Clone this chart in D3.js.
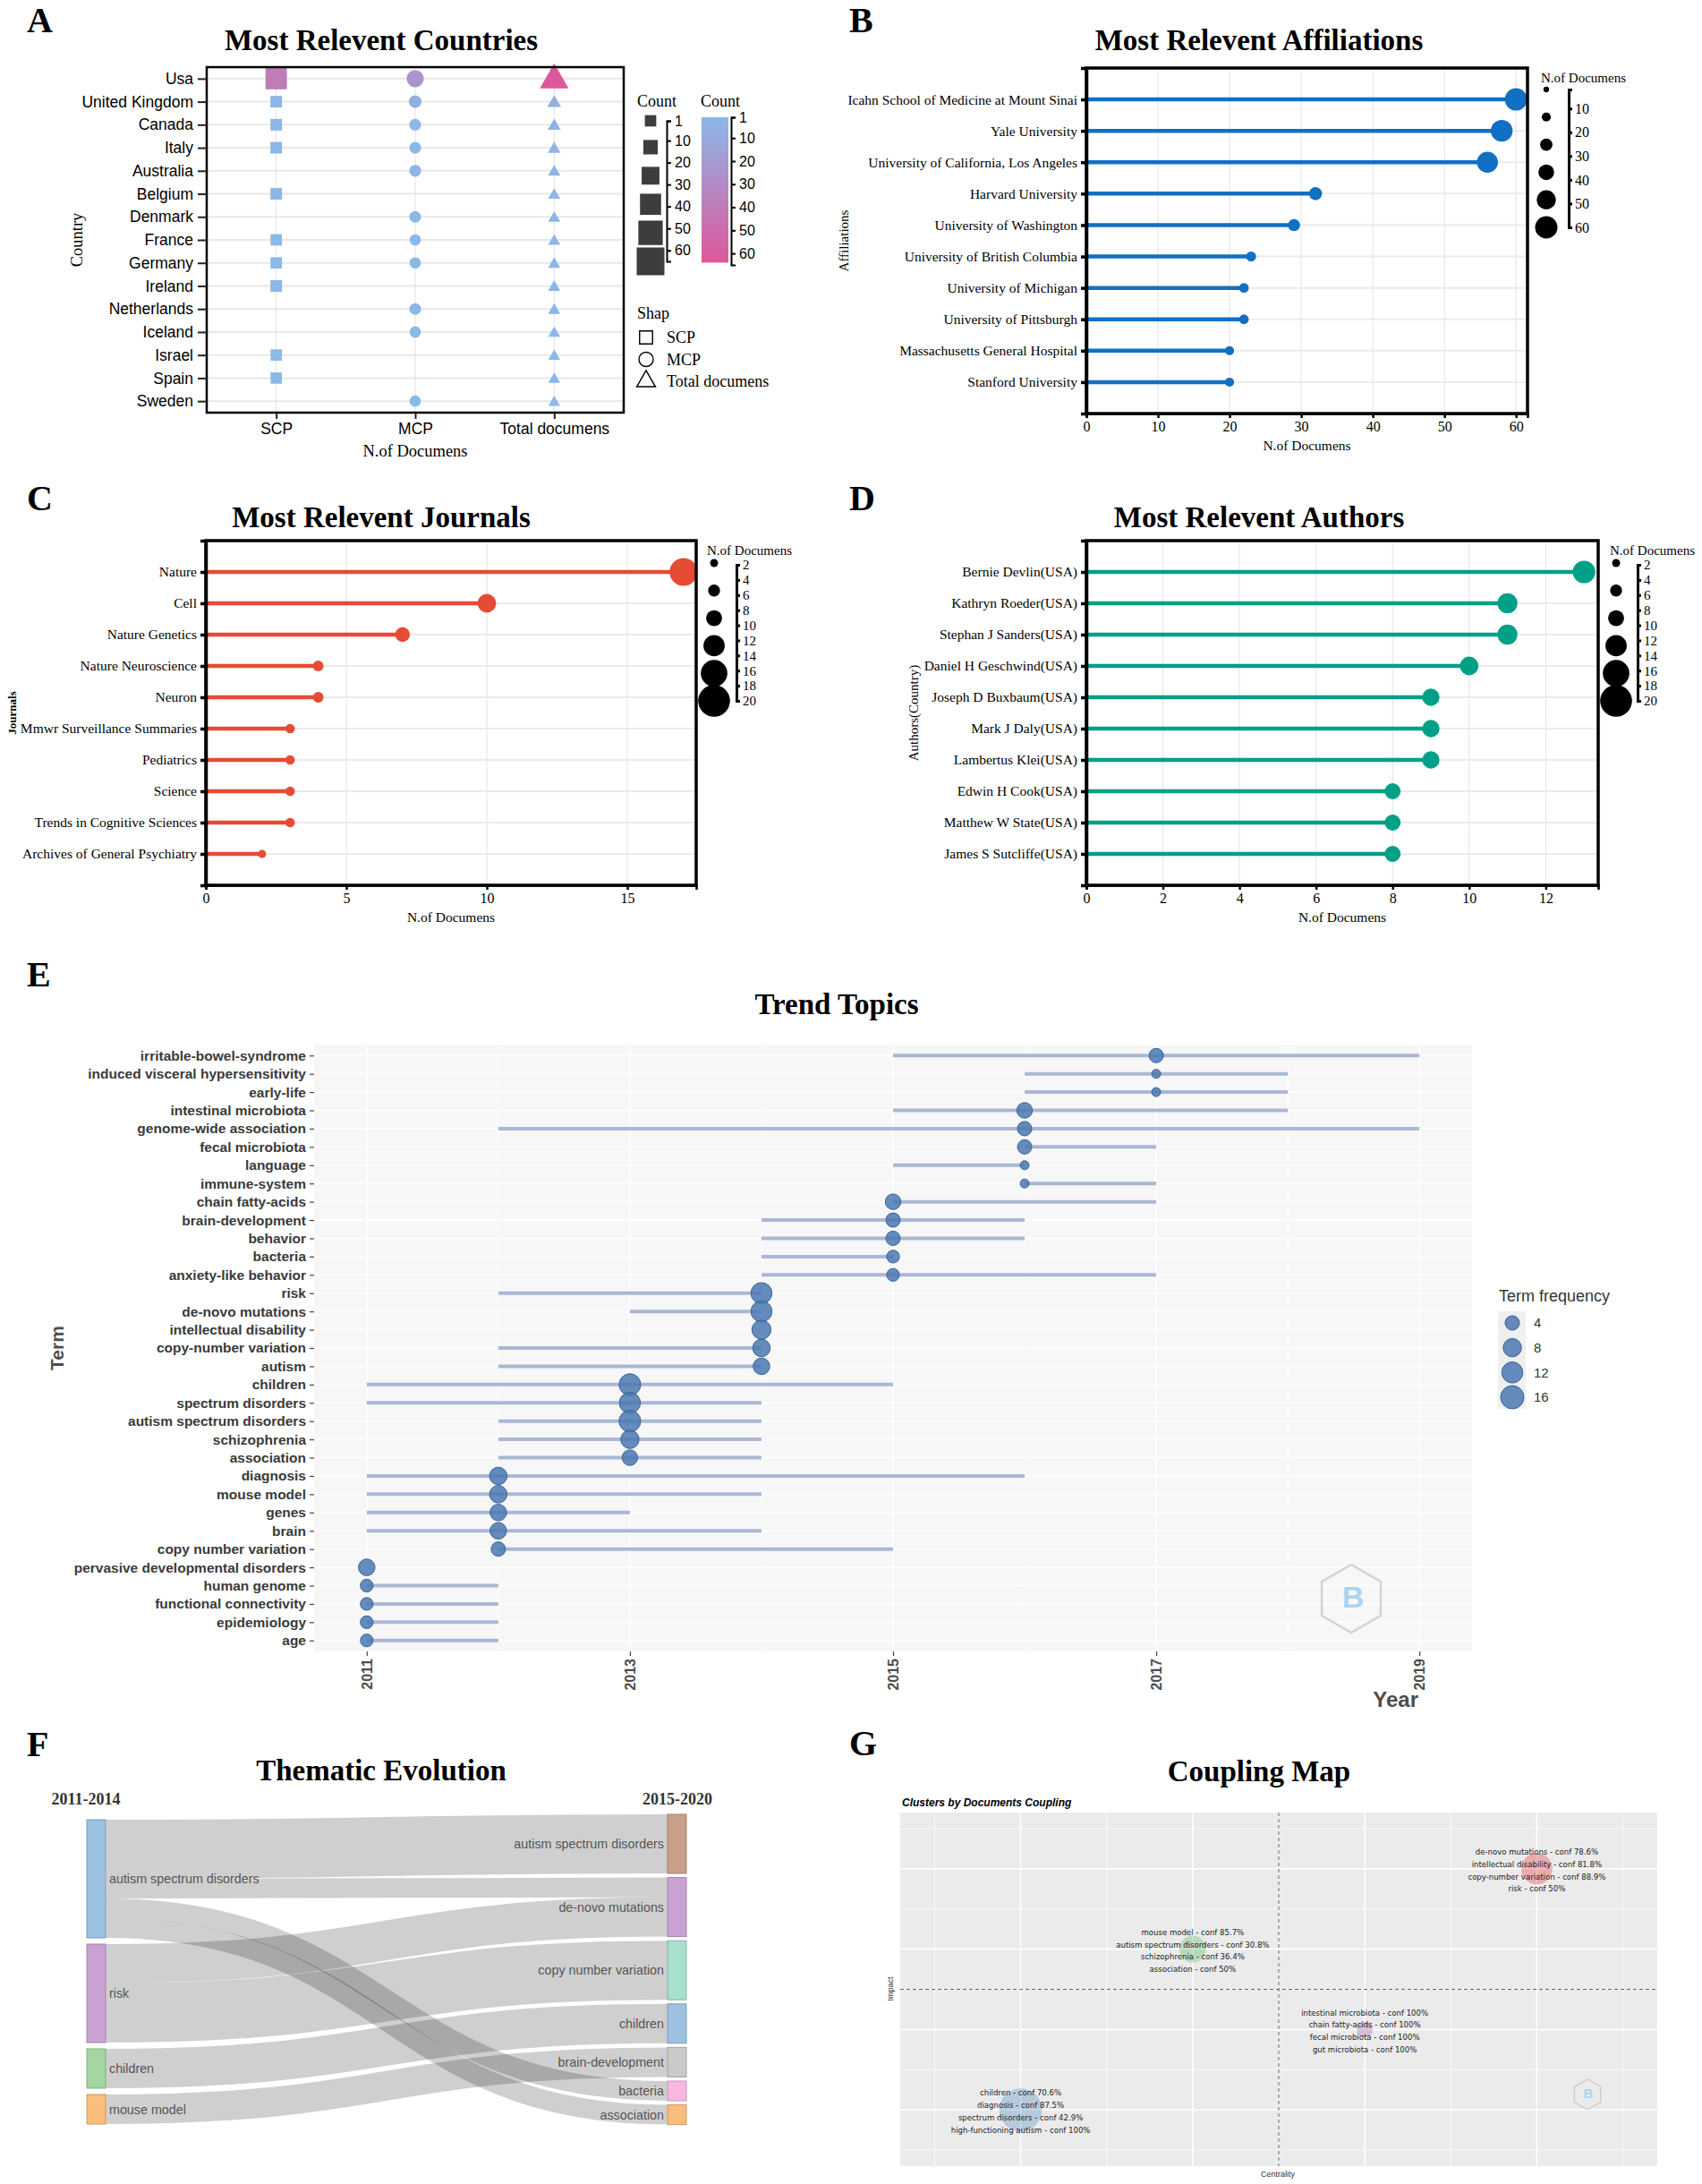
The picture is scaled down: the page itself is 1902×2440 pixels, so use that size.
<!DOCTYPE html>
<html>
<head>
<meta charset="utf-8">
<script src="https://cdn.jsdelivr.net/npm/d3@7"></script>
<style>
  body { margin: 0; background: #fff; }
</style>
</head>
<body>
<script>
// #A  Most relevant countries
const countries = ['Usa', 'United Kingdom', 'Canada', 'Italy', 'Australia', 'Belgium', 'Denmark', 'France',
                   'Germany', 'Ireland', 'Netherlands', 'Iceland', 'Israel', 'Spain', 'Sweden'];
const docTypes = ['SCP', 'MCP', 'Total documens'];
const scpCounts   = [40, 2, 2, 2, 0, 2, 0, 1, 1, 2, 0, 0, 1, 1, 0];
const mcpCounts   = [24, 6, 3, 2, 3, 0, 2, 1, 1, 0, 2, 1, 0, 0, 1];
const totalCounts = [64, 8, 5, 4, 3, 2, 2, 2, 2, 2, 2, 1, 1, 1, 1];
const countLegendValues = [1, 13, 26, 39, 52, 65];
const countTicks = [1, 10, 20, 30, 40, 50, 60];

// #B  Most relevant affiliations
const affiliations = ['Icahn School of Medicine at Mount Sinai', 'Yale University', 'University of California, Los Angeles',
                      'Harvard University', 'University of Washington', 'University of British Columbia',
                      'University of Michigan', 'University of Pittsburgh', 'Massachusetts General Hospital', 'Stanford University'];
const affiliationDocs = [60, 58, 56, 32, 29, 23, 22, 22, 20, 20];
const affTicks = [0, 10, 20, 30, 40, 50, 60];
const affLegendValues = [10, 20, 30, 40, 50, 60];

// #C  Most relevant journals
const journals = ['Nature', 'Cell', 'Nature Genetics', 'Nature Neuroscience', 'Neuron', 'Mmwr Surveillance Summaries',
                  'Pediatrics', 'Science', 'Trends in Cognitive Sciences', 'Archives of General Psychiatry'];
const journalDocs = [17, 10, 7, 4, 4, 3, 3, 3, 3, 2];
const journalTicks = [0, 5, 10, 15];

// #D  Most relevant authors
const authors = ['Bernie Devlin(USA)', 'Kathryn Roeder(USA)', 'Stephan J Sanders(USA)', 'Daniel H Geschwind(USA)',
                 'Joseph D Buxbaum(USA)', 'Mark J Daly(USA)', 'Lambertus Klei(USA)', 'Edwin H Cook(USA)',
                 'Matthew W State(USA)', 'James S Sutcliffe(USA)'];
const authorDocs = [13, 11, 11, 10, 9, 9, 9, 8, 8, 8];
const authorTicks = [0, 2, 4, 6, 8, 10, 12];
const docLegendValues = [2, 5, 8, 12, 16, 20];
const docLegendTicks = [2, 4, 6, 8, 10, 12, 14, 16, 18, 20];

// #E  Trend topics
const terms = ['irritable-bowel-syndrome', 'induced visceral hypersensitivity', 'early-life', 'intestinal microbiota',
               'genome-wide association', 'fecal microbiota', 'language', 'immune-system', 'chain fatty-acids',
               'brain-development', 'behavior', 'bacteria', 'anxiety-like behavior', 'risk', 'de-novo mutations',
               'intellectual disability', 'copy-number variation', 'autism', 'children', 'spectrum disorders',
               'autism spectrum disorders', 'schizophrenia', 'association', 'diagnosis', 'mouse model', 'genes', 'brain',
               'copy number variation', 'pervasive developmental disorders', 'human genome', 'functional connectivity',
               'epidemiology', 'age'];
const termQ1     = [2015, 2016, 2016, 2015, 2012, 2016, 2015, 2016, 2015, 2014, 2014, 2014, 2014, 2012, 2013, 2014, 2012,
                    2012, 2011, 2011, 2012, 2012, 2012, 2011, 2011, 2011, 2011, 2012, 2011, 2011, 2011, 2011, 2011];
const termMedian = [2017, 2017, 2017, 2016, 2016, 2016, 2016, 2016, 2015, 2015, 2015, 2015, 2015, 2014, 2014, 2014, 2014,
                    2014, 2013, 2013, 2013, 2013, 2013, 2012, 2012, 2012, 2012, 2012, 2011, 2011, 2011, 2011, 2011];
const termQ3     = [2019, 2018, 2018, 2018, 2019, 2017, 2016, 2017, 2017, 2016, 2016, 2015, 2017, 2014, 2014, 2014, 2014,
                    2014, 2015, 2014, 2014, 2014, 2014, 2016, 2014, 2013, 2014, 2015, 2011, 2012, 2012, 2012, 2012];
const termFreq   = [4, 2, 2, 5, 4, 4, 2, 2, 5, 4, 4, 3, 3, 12, 12, 9, 7, 6, 13, 12, 13, 8, 5, 7, 7, 6, 6, 4, 6, 3, 3, 3, 3];
const yearTicks = [2011, 2013, 2015, 2017, 2019];
const freqLegendValues = [4, 8, 12, 16];

// #F  Thematic evolution
const leftThemes  = ['autism spectrum disorders', 'risk', 'children', 'mouse model'];
const rightThemes = ['autism spectrum disorders', 'de-novo mutations', 'copy number variation', 'children',
                     'brain-development', 'bacteria', 'association'];
const leftColors  = ['#9dc1e1', '#c9a2d4', '#a3d6a0', '#fbbd7b'];
const rightColors = ['#c8a08c', '#c9a2d4', '#a9dfcf', '#9dc1e1', '#cacaca', '#f7b8e0', '#fbbd7b'];
const flowFrom   = [0, 0, 0, 0, 1, 1, 2, 3];
const flowTo     = [0, 1, 5, 6, 1, 2, 3, 4];
const flowWeight = [3, 1, 1, 1, 2, 3, 2, 1.5];

// #G  Coupling map
const clusterTerms = [
  ['de-novo mutations - conf 78.6%', 'intellectual disability - conf 81.8%', 'copy-number variation - conf 88.9%', 'risk - conf 50%'],
  ['mouse model - conf 85.7%', 'autism spectrum disorders - conf 30.8%', 'schizophrenia - conf 36.4%', 'association - conf 50%'],
  ['intestinal microbiota - conf 100%', 'chain fatty-acids - conf 100%', 'fecal microbiota - conf 100%', 'gut microbiota - conf 100%'],
  ['children - conf 70.6%', 'diagnosis - conf 87.5%', 'spectrum disorders - conf 42.9%', 'high-functioning autism - conf 100%']
];
const clusterCentrality = [4, 2, 3, 1];
const clusterImpact     = [4, 3, 2, 1];
const clusterFreq       = [19, 14, 5, 36];
const clusterColors     = ['#e41a1c', '#4daf4a', '#984ea3', '#377eb8'];

// #Define SVG
const width = 1902, height = 2440;
const SERIF = '"Liberation Serif", "Times New Roman", serif';
const SANS = '"Liberation Sans", Arial, sans-serif';
const NARROW = '"Liberation Sans Narrow", "DejaVu Sans Condensed", "Liberation Sans", sans-serif';

const svg = d3.select('body')
              .append('svg')
              .attr('width', width)
              .attr('height', height)
              .style('font-family', SERIF);

svg.append('rect').attr('width', width).attr('height', height).attr('fill', '#fff');

const addText = (g, x, y, txt, size, opt = {}) =>
    g.append('text')
     .attr('x', x)
     .attr('y', y)
     .attr('font-size', size)
     .attr('font-family', opt.family || SERIF)
     .attr('font-weight', opt.weight || 'normal')
     .attr('font-style', opt.style || 'normal')
     .attr('text-anchor', opt.anchor || 'middle')
     .attr('fill', opt.fill || '#000')
     .attr('dy', opt.dy || '0.35em')
     .attr('transform', opt.rotate ? `rotate(-90,${x},${y})` : null)
     .text(txt);

// #Panel letters and titles
[['A', 30, 22], ['B', 949, 22], ['C', 30, 556], ['D', 949, 556], ['E', 30, 1088], ['F', 30, 1948], ['G', 949, 1947]]
    .forEach(([l, x, y]) => addText(svg, x, y, l, 40, {weight: 'bold', anchor: 'start'}));

[['Most Relevent Countries', 426, 44], ['Most Relevent Affiliations', 1407, 44], ['Most Relevent Journals', 426, 577],
 ['Most Relevent Authors', 1407, 577], ['Trend Topics', 935, 1121], ['Thematic Evolution', 426, 1977], ['Coupling Map', 1407, 1978]]
    .forEach(([t, x, y]) => addText(svg, x, y, t, 33, {weight: 'bold'}));

// ================= A =================
const gA = svg.append('g');
const xA = d3.scalePoint().domain(docTypes).range([231, 697]).padding(0.5);
const yA = d3.scalePoint().domain(countries).range([75, 461]).padding(0.5);
const sideA = d3.scaleLinear().domain([1, 65]).range([12.7, 31]);
const colorA = d3.scaleLinear().domain([1, 65]).range(['#8bb9e8', '#e0559a']);

gA.selectAll('.hgrid').data(countries).join('line').attr('class', 'hgrid')
  .attr('x1', 231).attr('x2', 697).attr('y1', d => yA(d)).attr('y2', d => yA(d))
  .attr('stroke', '#e8e8e8').attr('stroke-width', 2);
gA.selectAll('.vgrid').data(docTypes).join('line').attr('class', 'vgrid')
  .attr('x1', d => xA(d)).attr('x2', d => xA(d)).attr('y1', 75).attr('y2', 461)
  .attr('stroke', '#e2e2e2').attr('stroke-width', 1);

const countSeries = [scpCounts, mcpCounts, totalCounts];
const symbolTypes = [d3.symbolSquare, d3.symbolCircle, d3.symbolTriangle];
const symbolArea = [s => s * s, s => Math.PI * s * s / 4, s => Math.sqrt(3) / 4 * s * s * 1.1];
const markers = [];
countries.forEach((c, i) => docTypes.forEach((t, j) => {
    const n = countSeries[j][i];
    if (n > 0) markers.push({country: c, type: t, j, n});
}));

gA.selectAll('.marker').data(markers).join('path').attr('class', 'marker')
  .attr('transform', d => `translate(${xA(d.type)},${yA(d.country) + (d.j === 2 ? 1.5 : 0)})`)
  .attr('d', d => d3.symbol().type(symbolTypes[d.j]).size(symbolArea[d.j](sideA(d.n)))())
  .attr('fill', d => colorA(d.n));

gA.append('rect').attr('x', 231).attr('y', 75).attr('width', 466).attr('height', 386)
  .attr('fill', 'none').attr('stroke', '#000').attr('stroke-width', 2.5);

const yAxisA = gA.append('g').attr('transform', 'translate(231,0)')
                 .call(d3.axisLeft(yA).tickSize(10).tickSizeOuter(0).tickPadding(5));
yAxisA.select('.domain').remove();
yAxisA.attr('font-family', SANS).attr('font-size', 17.5);
yAxisA.selectAll('line').attr('stroke', '#222').attr('stroke-width', 2);

const xAxisA = gA.append('g').attr('transform', 'translate(0,461)')
                 .call(d3.axisBottom(xA).tickSize(7).tickSizeOuter(0).tickPadding(5));
xAxisA.select('.domain').remove();
xAxisA.attr('font-family', SANS).attr('font-size', 17.5);
xAxisA.selectAll('line').attr('stroke', '#222').attr('stroke-width', 2);

addText(gA, 464, 504, 'N.of Documens', 18.5);
addText(gA, 86, 268, 'Country', 18.5, {rotate: true});

// size legend
addText(gA, 712, 113, 'Count', 18, {anchor: 'start'});
const sizeLegA = d3.scaleLinear().domain([1, 65]).range([135, 292]);
gA.selectAll('.sizeKey').data(countLegendValues).join('rect').attr('class', 'sizeKey')
  .attr('x', d => 727 - sideA(d) / 2).attr('y', d => sizeLegA(d) - sideA(d) / 2)
  .attr('width', d => sideA(d)).attr('height', d => sideA(d)).attr('fill', '#3d3d3d');
const sizeAxisA = gA.append('g').attr('transform', 'translate(745,0)')
                    .call(d3.axisRight(sizeLegA).tickValues(countTicks).tickSize(5).tickSizeOuter(5).tickPadding(4));
sizeAxisA.attr('font-family', SANS).attr('font-size', 16);
sizeAxisA.selectAll('line, path').attr('stroke', '#000').attr('stroke-width', 2);

// colour legend
addText(gA, 783, 113, 'Count', 18, {anchor: 'start'});
const colorLegA = d3.scaleLinear().domain([1, 65]).range([131, 296]);
const gradA = svg.append('defs').append('linearGradient').attr('id', 'gradA')
                 .attr('x1', 0).attr('y1', 0).attr('x2', 0).attr('y2', 1);
gradA.selectAll('stop').data(d3.range(0, 1.001, 0.1)).join('stop')
     .attr('offset', d => d).attr('stop-color', d => colorA(1 + d * 63));
gA.append('rect').attr('x', 784).attr('y', colorLegA(1)).attr('width', 30)
  .attr('height', colorLegA(64) - colorLegA(1)).attr('fill', 'url(#gradA)');
const colorAxisA = gA.append('g').attr('transform', 'translate(817,0)')
                     .call(d3.axisRight(colorLegA).tickValues(countTicks).tickSize(5).tickSizeOuter(5).tickPadding(4));
colorAxisA.attr('font-family', SANS).attr('font-size', 16);
colorAxisA.selectAll('line, path').attr('stroke', '#000').attr('stroke-width', 2);

// shape legend
addText(gA, 712, 350, 'Shap', 18, {anchor: 'start'});
const shapeLegY = d3.scalePoint().domain(docTypes).range([377, 426]);
gA.selectAll('.shapeKey').data(docTypes).join('path').attr('class', 'shapeKey')
  .attr('transform', (d, i) => `translate(722,${shapeLegY(d)})`)
  .attr('d', (d, i) => d3.symbol().type(symbolTypes[i]).size([210, 200, 190][i])())
  .attr('fill', 'none').attr('stroke', '#000').attr('stroke-width', 1.4);
docTypes.forEach(d => addText(gA, 745, shapeLegY(d), d, 18, {anchor: 'start'}));

// ================= B, C, D  lollipops =================
function drawLollipop(p) {
    const g = svg.append('g');
    const x = d3.scaleLinear().domain([0, p.xMax]).range([p.left, p.right]);
    const y = d3.scalePoint().domain(p.cats).range([p.top, p.bottom]).padding(1);
    const r = d3.scaleLinear().domain(p.rDomain).range(p.rRange);

    g.selectAll('.vgrid').data(p.xTicks).join('line').attr('class', 'vgrid')
     .attr('x1', d => x(d)).attr('x2', d => x(d)).attr('y1', p.top).attr('y2', p.bottom)
     .attr('stroke', '#e3e3e3').attr('stroke-width', 1);
    g.selectAll('.hgrid').data(p.cats).join('line').attr('class', 'hgrid')
     .attr('x1', p.left).attr('x2', p.right).attr('y1', d => y(d)).attr('y2', d => y(d))
     .attr('stroke', '#ebebeb').attr('stroke-width', 2);

    g.selectAll('.stick').data(p.cats).join('line').attr('class', 'stick')
     .attr('x1', x(0)).attr('x2', (d, i) => x(p.values[i]))
     .attr('y1', d => y(d)).attr('y2', d => y(d))
     .attr('stroke', p.color).attr('stroke-width', 4.5);
    g.selectAll('.dot').data(p.cats).join('circle').attr('class', 'dot')
     .attr('cx', (d, i) => x(p.values[i])).attr('cy', d => y(d))
     .attr('r', (d, i) => r(p.values[i])).attr('fill', p.color);

    g.append('rect').attr('x', p.left).attr('y', p.top)
     .attr('width', p.right - p.left).attr('height', p.bottom - p.top)
     .attr('fill', 'none').attr('stroke', '#000').attr('stroke-width', 3.5);

    const yAxis = g.append('g').attr('transform', `translate(${p.left},0)`)
                   .call(d3.axisLeft(y).tickSize(6).tickSizeOuter(6).tickPadding(4));
    yAxis.attr('font-family', SERIF).attr('font-size', 15.5);
    yAxis.selectAll('line, path').attr('stroke', '#000').attr('stroke-width', 3.5);

    const xAxis = g.append('g').attr('transform', `translate(0,${p.bottom})`)
                   .call(d3.axisBottom(x).tickValues(p.xTicks).tickSize(5).tickSizeOuter(5).tickPadding(4));
    xAxis.attr('font-family', SERIF).attr('font-size', 16);
    xAxis.selectAll('line, path').attr('stroke', '#000').attr('stroke-width', 2.5);

    addText(g, (p.left + p.right) / 2, p.bottom + 36, 'N.of Documens', 15.5);
    addText(g, p.yTitleX, (p.top + p.bottom) / 2, p.yTitle, p.yTitleSize, {rotate: true, weight: p.yTitleWeight});

    // legend
    addText(g, p.legX, p.top + 11, 'N.of Documens', 15, {anchor: 'start'});
    const legY = d3.scalePoint().domain(p.legValues).range(p.legDotRange);
    g.selectAll('.legDot').data(p.legValues).join('circle').attr('class', 'legDot')
     .attr('cx', p.legX + p.legDotDx).attr('cy', d => legY(d)).attr('r', d => r(d)).attr('fill', '#000');
    const legScale = d3.scaleLinear().domain(p.legDomain).range(p.legRange);
    const legAxis = g.append('g').attr('transform', `translate(${p.legX + p.legAxisDx},0)`)
                     .call(d3.axisRight(legScale).tickValues(p.legTicks).tickSize(4).tickSizeOuter(4).tickPadding(3));
    legAxis.attr('font-family', SERIF).attr('font-size', p.legFont);
    legAxis.selectAll('line, path').attr('stroke', '#000').attr('stroke-width', 3);
}

drawLollipop({
    cats: affiliations, values: affiliationDocs, color: '#1170c4',
    left: 1214, right: 1707, top: 76, bottom: 462, xMax: 61.6, xTicks: affTicks,
    rDomain: [0, 60], rRange: [1.3, 12.5],
    yTitle: 'Affiliations', yTitleX: 943, yTitleSize: 15,
    legX: 1722, legDotDx: 6, legAxisDx: 31, legValues: affLegendValues, legDotRange: [100, 254],
    legDomain: [2, 60], legRange: [100, 254], legTicks: affLegendValues, legFont: 16
});

drawLollipop({
    cats: journals, values: journalDocs, color: '#e64b35',
    left: 230, right: 778, top: 604, bottom: 989, xMax: 17.45, xTicks: journalTicks,
    rDomain: [0, 20], rRange: [3, 17.8],
    yTitle: 'Journals', yTitleX: 13, yTitleSize: 13, yTitleWeight: 'bold',
    legX: 790, legDotDx: 8, legAxisDx: 33, legValues: docLegendValues, legDotRange: [629, 783],
    legDomain: [2, 20], legRange: [631, 783], legTicks: docLegendTicks, legFont: 15
});

drawLollipop({
    cats: authors, values: authorDocs, color: '#00a087',
    left: 1214, right: 1786, top: 604, bottom: 989, xMax: 13.37, xTicks: authorTicks,
    rDomain: [0, 20], rRange: [3, 17.8],
    yTitle: 'Authors(Country)', yTitleX: 1021, yTitleSize: 15,
    legX: 1799, legDotDx: 7, legAxisDx: 31, legValues: docLegendValues, legDotRange: [629, 783],
    legDomain: [2, 20], legRange: [631, 783], legTicks: docLegendTicks, legFont: 15
});

// ================= E  Trend topics =================
const gE = svg.append('g').attr('font-family', SANS);
const xE = d3.scaleLinear().domain([2010.6, 2019.4]).range([351, 1645]);
const yE = d3.scalePoint().domain(terms).range([1167, 1845]).padding(0.6);
const rE = d3.scaleSqrt().domain([0, 15]).range([5, 13.3]);

gE.append('rect').attr('x', 351).attr('y', 1167).attr('width', 1294).attr('height', 678).attr('fill', '#f7f7f7');
gE.selectAll('.vgrid').data(d3.range(2011, 2020)).join('line').attr('class', 'vgrid')
  .attr('x1', d => xE(d)).attr('x2', d => xE(d)).attr('y1', 1167).attr('y2', 1845)
  .attr('stroke', '#fff').attr('stroke-width', d => d % 2 ? 1.6 : 0.8);
gE.selectAll('.hgrid').data(terms).join('line').attr('class', 'hgrid')
  .attr('x1', 351).attr('x2', 1645).attr('y1', d => yE(d)).attr('y2', d => yE(d))
  .attr('stroke', '#fff').attr('stroke-width', 1.4);

gE.selectAll('.seg').data(terms).join('line').attr('class', 'seg')
  .attr('x1', (d, i) => xE(termQ1[i])).attr('x2', (d, i) => xE(termQ3[i]))
  .attr('y1', d => yE(d)).attr('y2', d => yE(d))
  .attr('stroke', '#aab7d6').attr('stroke-width', 4);
gE.selectAll('.tdot').data(terms).join('circle').attr('class', 'tdot')
  .attr('cx', (d, i) => xE(termMedian[i])).attr('cy', d => yE(d))
  .attr('r', (d, i) => rE(termFreq[i] - 2))
  .attr('fill', '#4a78b0').attr('fill-opacity', 0.85).attr('stroke', '#3a6597').attr('stroke-width', 1);

const yAxisE = gE.append('g').attr('transform', 'translate(351,0)')
                 .call(d3.axisLeft(yE).tickSize(5).tickPadding(4));
yAxisE.select('.domain').remove();
yAxisE.attr('font-family', SANS).attr('font-size', 15.5).attr('font-weight', 'bold');
yAxisE.selectAll('text').attr('fill', '#3a3a3a');
yAxisE.selectAll('line').attr('stroke', '#444').attr('stroke-width', 1.2);

const xAxisE = gE.append('g').attr('transform', 'translate(0,1845)')
                 .call(d3.axisBottom(xE).tickValues(yearTicks).tickFormat(d3.format('d')).tickSize(5));
xAxisE.select('.domain').remove();
xAxisE.attr('font-family', SANS).attr('font-size', 16).attr('font-weight', 'bold');
xAxisE.selectAll('line').attr('stroke', '#444').attr('stroke-width', 1.2);
xAxisE.selectAll('text').attr('fill', '#4d4d4d')
      .attr('transform', 'rotate(-90)').attr('text-anchor', 'end')
      .attr('x', -8).attr('y', 0).attr('dy', '0.35em');

addText(gE, 1585, 1899, 'Year', 24, {family: SANS, weight: 'bold', anchor: 'end', fill: '#4d4d4d'});
addText(gE, 64, 1506, 'Term', 21, {family: SANS, weight: 'bold', fill: '#4d4d4d', rotate: true});

// legend
addText(gE, 1675, 1448, 'Term frequency', 18, {family: SANS, anchor: 'start', fill: '#333'});
const legYE = d3.scalePoint().domain(freqLegendValues).range([1478, 1561]);
gE.append('rect').attr('x', 1674).attr('y', 1465).attr('width', 31).attr('height', 109).attr('fill', '#efefef');
gE.selectAll('.legE').data(freqLegendValues).join('circle').attr('class', 'legE')
  .attr('cx', 1690).attr('cy', d => legYE(d)).attr('r', d => rE(d - 2))
  .attr('fill', '#4a78b0').attr('fill-opacity', 0.85).attr('stroke', '#3a6597');
freqLegendValues.forEach(d => addText(gE, 1714, legYE(d), d, 15, {family: SANS, anchor: 'start', fill: '#333'}));

// watermark
const hexagon = (cx, cy, rad) => d3.line()(d3.range(7).map(k => {
    const a = Math.PI / 3 * k - Math.PI / 2;
    return [cx + rad * Math.cos(a), cy + rad * Math.sin(a)];
}));
gE.append('path').attr('d', hexagon(1510, 1786, 38)).attr('fill', 'none').attr('stroke', '#d3d3d3').attr('stroke-width', 2.5);
addText(gE, 1512, 1784, 'B', 34, {family: SANS, weight: 'bold', fill: '#a9d4ee'});

// ================= F  Thematic evolution =================
const gF = svg.append('g').attr('font-family', SANS);
const flowUnit = d3.scaleLinear().domain([0, 1]).range([0, 22]);
const leftValues = leftThemes.map((_, i) => d3.sum(flowWeight.filter((w, k) => flowFrom[k] === i)));
const rightValues = rightThemes.map((_, i) => d3.sum(flowWeight.filter((w, k) => flowTo[k] === i)));

const stackColumn = (names, values, top, pad) => {
    let y = top;
    return names.map((n, i) => {
        const node = {name: n, y0: y, y1: y + flowUnit(values[i]), used: 0};
        y = node.y1 + pad;
        return node;
    });
};
const leftNodes = stackColumn(leftThemes, leftValues, 2033, 7);
const rightNodes = stackColumn(rightThemes, rightValues, 2027, 4.6);
const xLeft = 97, xRight = 746, nodeW = 21;

const flows = flowWeight.map((w, k) => {
    const s = leftNodes[flowFrom[k]], t = rightNodes[flowTo[k]];
    const h = flowUnit(w);
    const f = {w: h, sy: s.y0 + s.used + h / 2, ty: t.y0 + t.used + h / 2};
    s.used += h; t.used += h;
    return f;
});

const linkGen = d3.linkHorizontal();
gF.selectAll('.flow').data(flows).join('path').attr('class', 'flow')
  .attr('d', d => linkGen({source: [xLeft + nodeW, d.sy], target: [xRight, d.ty]}))
  .attr('fill', 'none').attr('stroke', '#000').attr('stroke-opacity', 0.19).attr('stroke-width', d => d.w);

gF.selectAll('.lnode').data(leftNodes).join('rect').attr('class', 'lnode')
  .attr('x', xLeft).attr('y', d => d.y0).attr('width', nodeW).attr('height', d => d.y1 - d.y0)
  .attr('fill', (d, i) => leftColors[i]).attr('stroke', (d, i) => d3.color(leftColors[i]).darker(0.6)).attr('stroke-width', 1);
gF.selectAll('.rnode').data(rightNodes).join('rect').attr('class', 'rnode')
  .attr('x', xRight).attr('y', d => d.y0).attr('width', nodeW).attr('height', d => d.y1 - d.y0)
  .attr('fill', (d, i) => rightColors[i]).attr('stroke', (d, i) => d3.color(rightColors[i]).darker(0.6)).attr('stroke-width', 1);

leftNodes.forEach(d => addText(gF, xLeft + nodeW + 4, (d.y0 + d.y1) / 2, d.name, 14.3, {family: SANS, anchor: 'start', fill: '#555'}));
rightNodes.forEach(d => addText(gF, xRight - 4, (d.y0 + d.y1) / 2, d.name, 14.3, {family: SANS, anchor: 'end', fill: '#555'}));

addText(gF, 96, 2010, '2011-2014', 18, {weight: 'bold', fill: '#333'});
addText(gF, 757, 2010, '2015-2020', 18, {weight: 'bold', fill: '#333'});

// ================= G  Coupling map =================
const gG = svg.append('g').attr('font-family', SANS);
const xG = d3.scaleLinear().domain([0.3, 4.7]).range([1006, 1852]);
const yG = d3.scaleLinear().domain([0.3, 4.7]).range([2420, 2025]);
const rG = d3.scaleSqrt().domain([0, 36]).range([0, 24]);
const majorG = [1, 2, 3, 4], minorG = [0.5, 1.5, 2.5, 3.5, 4.5];

addText(gG, 1008, 2014, 'Clusters by Documents Coupling', 12, {family: SANS, weight: 'bold', style: 'italic', anchor: 'start'});
gG.append('rect').attr('x', 1006).attr('y', 2025).attr('width', 846).attr('height', 395).attr('fill', '#ebebeb');
[[minorG, 0.7], [majorG, 1.5]].forEach(([vals, sw]) => {
    gG.append('g').selectAll('line').data(vals).join('line')
      .attr('x1', d => xG(d)).attr('x2', d => xG(d)).attr('y1', 2025).attr('y2', 2420)
      .attr('stroke', '#fff').attr('stroke-width', sw);
    gG.append('g').selectAll('line').data(vals).join('line')
      .attr('y1', d => yG(d)).attr('y2', d => yG(d)).attr('x1', 1006).attr('x2', 1852)
      .attr('stroke', '#fff').attr('stroke-width', sw);
});
gG.append('line').attr('x1', xG(2.5)).attr('x2', xG(2.5)).attr('y1', 2025).attr('y2', 2420)
  .attr('stroke', '#666').attr('stroke-width', 1).attr('stroke-dasharray', '4,3');
gG.append('line').attr('y1', yG(2.5)).attr('y2', yG(2.5)).attr('x1', 1006).attr('x2', 1852)
  .attr('stroke', '#666').attr('stroke-width', 1).attr('stroke-dasharray', '4,3');

gG.selectAll('.bubble').data(clusterTerms).join('circle').attr('class', 'bubble')
  .attr('cx', (d, i) => xG(clusterCentrality[i])).attr('cy', (d, i) => yG(clusterImpact[i]))
  .attr('r', (d, i) => rG(clusterFreq[i])).attr('fill', (d, i) => clusterColors[i]).attr('fill-opacity', 0.3);

clusterTerms.forEach((lines, i) => lines.forEach((t, k) =>
    addText(gG, xG(clusterCentrality[i]), yG(clusterImpact[i]) + (k - 1.5) * 13.7 + 1.5, t, 9.5,
            {family: NARROW, fill: '#222'})));

addText(gG, 1428, 2429, 'Centrality', 9, {family: SANS, fill: '#333'});
addText(gG, 995, 2222, 'Impact', 9, {family: SANS, fill: '#333', rotate: true});

gG.append('path').attr('d', hexagon(1774, 2340, 17)).attr('fill', 'none').attr('stroke', '#cfcfcf').attr('stroke-width', 1.5);
addText(gG, 1775, 2339, 'B', 15, {family: SANS, weight: 'bold', fill: '#a9d4ee'});
</script>
</body>
</html>
